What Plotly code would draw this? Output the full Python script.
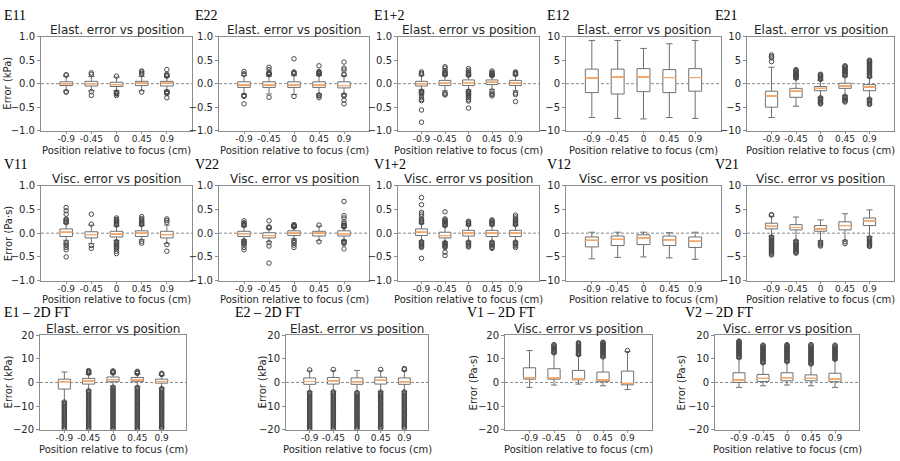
import plotly.graph_objects as go

# ---------------- data ----------------
positions = [1, 2, 3, 4, 5]
pos_labels = ["-0.9", "-0.45", "0", "0.45", "0.9"]

# E11
e11_q1 = [-0.04, -0.05, -0.06, -0.04, -0.05]
e11_med = [0.0, 0.0, -0.02, 0.01, 0.01]
e11_q3 = [0.04, 0.05, 0.03, 0.05, 0.05]
e11_lo = [-0.15, -0.15, -0.15, -0.15, -0.14]
e11_hi = [0.16, 0.15, 0.14, 0.15, 0.14]
e11_out = [[0.18, 0.19, -0.17, -0.18],
           [0.2, 0.23, -0.17, -0.25],
           [0.16, -0.18, -0.19, -0.2, -0.21, -0.22, -0.25],
           [0.2, 0.22, 0.25, 0.27, -0.18],
           [0.16, 0.17, 0.18, 0.2, 0.3, -0.17, -0.18, -0.19, -0.2, -0.21, -0.3]]

# E22
e22_q1 = [-0.08, -0.08, -0.08, -0.08, -0.09]
e22_med = [-0.03, -0.03, -0.03, -0.03, -0.04]
e22_q3 = [0.04, 0.04, 0.04, 0.04, 0.04]
e22_lo = [-0.22, -0.22, -0.23, -0.22, -0.22]
e22_hi = [0.17, 0.16, 0.17, 0.17, 0.17]
e22_out = [[0.2, 0.21, 0.26, -0.25, -0.26, -0.27, -0.43],
           [0.19, 0.2, 0.21, 0.22, 0.24, 0.3, 0.35, -0.29],
           [0.21, 0.22, 0.23, 0.25, 0.53, -0.27],
           [0.2, 0.21, 0.22, 0.23, 0.24, 0.26, 0.38, -0.24, -0.25, -0.26, -0.3],
           [0.19, 0.2, 0.29, 0.33, 0.46, -0.24, -0.25, -0.26, -0.35, -0.43]]

# E1+2
e12s_q1 = [-0.05, -0.04, -0.04, -0.02, -0.04]
e12s_med = [0.0, 0.01, 0.02, 0.03, 0.01]
e12s_q3 = [0.05, 0.07, 0.08, 0.08, 0.07]
e12s_lo = [-0.13, -0.15, -0.13, -0.12, -0.15]
e12s_hi = [0.17, 0.17, 0.17, 0.16, 0.17]
e12s_out = [[0.2, 0.22, 0.25, -0.16, -0.17, -0.18, -0.19, -0.2, -0.22, -0.25, -0.3, -0.34, -0.36, -0.56, -0.82],
            [0.19, 0.2, 0.21, 0.23, 0.25, 0.28, 0.33, 0.36, -0.2, -0.22, -0.24],
            [0.18, 0.19, 0.2, 0.21, 0.23, 0.25, 0.28, 0.32, -0.16, -0.17, -0.19, -0.21, -0.23, -0.25, -0.28, -0.3, -0.34, -0.37, -0.52],
            [0.17, 0.18, 0.2, 0.21, 0.22, 0.24, 0.27, -0.16, -0.2, -0.23, -0.26],
            [0.2, 0.21, 0.22, 0.23, 0.25, -0.2, -0.23, -0.38]]

# E12
e12_q1 = [-1.9, -2.2, -1.7, -1.9, -1.6]
e12_med = [1.2, 1.4, 1.4, 1.3, 1.3]
e12_q3 = [3.1, 3.1, 3.2, 3.0, 3.2]
e12_lo = [-7.2, -7.4, -7.5, -7.2, -7.4]
e12_hi = [9.2, 9.2, 7.5, 8.5, 9.2]
e12_out = [[], [], [], [], []]

# E21
e21_q1 = [-5.0, -2.9, -1.5, -1.0, -1.5]
e21_med = [-2.6, -1.6, -1.0, -0.5, -0.7]
e21_q3 = [-1.6, -1.0, -0.6, 0.1, -0.2]
e21_lo = [-7.2, -4.8, -2.9, -2.5, -3.2]
e21_hi = [3.5, 0.9, 0.7, 1.5, 1.3]
e21_out = [[4.7, 5.5, 5.8, 6.1],
           [1.2, 1.4, 1.5, 1.6, 1.7, 1.8, 1.9, 2.0, 2.2, 2.4, 2.6, 2.8, 3.0],
           [0.9, 1.1, 1.3, 1.5, 1.7, 1.9, 2.0, -3.0, -3.2, -3.4, -3.6, -3.8, -4.0, -4.2, -4.3],
           [1.7, 1.9, 2.1, 2.3, 2.5, 2.7, 2.9, 3.1, 3.3, 3.5, 3.7, 3.8,
            -2.7, -2.9, -3.1, -3.3, -3.5, -3.7, -3.9],
           [1.5, 1.7, 1.9, 2.1, 2.3, 2.5, 2.7, 2.9, 3.1, 3.3, 3.5, 3.7, 3.9, 4.1, 4.3, 4.5, 4.7, 4.9, 5.0,
            -3.3, -3.5, -3.7, -3.9, -4.1, -4.3, -4.4]]

# V11
v11_q1 = [-0.07, -0.1, -0.08, -0.07, -0.1]
v11_med = [0.02, -0.03, -0.02, 0.0, -0.03]
v11_q3 = [0.09, 0.03, 0.04, 0.05, 0.04]
v11_lo = [-0.15, -0.22, -0.15, -0.14, -0.22]
v11_hi = [0.2, 0.17, 0.15, 0.16, 0.17]
v11_out = [[0.22, 0.24, 0.26, 0.28, 0.3, 0.4, 0.47, 0.54, -0.2, -0.23, -0.26, -0.3, -0.35, -0.5],
           [0.19, 0.4, -0.26, -0.32],
           [0.17, 0.19, 0.21, 0.23, 0.25, 0.27, 0.29, 0.32, -0.18, -0.2, -0.22, -0.24, -0.26, -0.28, -0.3, -0.32, -0.38, -0.43],
           [0.18, 0.2, 0.22, 0.24, 0.26, 0.28, 0.31, 0.35, -0.17, -0.21],
           [0.23, 0.27, 0.3, -0.24, -0.38]]

# V22
v22_q1 = [-0.07, -0.1, -0.05, -0.06, -0.06]
v22_med = [-0.01, -0.05, 0.0, 0.0, -0.01]
v22_q3 = [0.04, 0.01, 0.05, 0.04, 0.05]
v22_lo = [-0.14, -0.18, -0.12, -0.16, -0.15]
v22_hi = [0.14, 0.09, 0.12, 0.15, 0.12]
v22_out = [[0.16, 0.18, 0.2, 0.22, 0.26, -0.16, -0.18, -0.2, -0.22, -0.25, -0.3, -0.35],
           [0.11, 0.12, 0.13, 0.26, -0.2, -0.27, -0.63],
           [0.13, 0.14, 0.15, 0.16, 0.17, 0.18, -0.15, -0.18, -0.2, -0.25, -0.3],
           [0.17, -0.18],
           [0.13, 0.14, 0.16, 0.17, 0.2, 0.24, 0.32, 0.37, 0.67, -0.17, -0.18, -0.2, -0.22, -0.33]]

# V1+2
v12s_q1 = [-0.05, -0.1, -0.06, -0.07, -0.07]
v12s_med = [0.02, -0.05, 0.0, 0.0, 0.0]
v12s_q3 = [0.09, 0.02, 0.06, 0.06, 0.06]
v12s_lo = [-0.16, -0.18, -0.17, -0.17, -0.17]
v12s_hi = [0.2, 0.14, 0.16, 0.16, 0.16]
v12s_out = [[0.22, 0.24, 0.26, 0.28, 0.3, 0.35, 0.4, 0.44, 0.6, 0.75, -0.18, -0.2, -0.22, -0.24, -0.26, -0.28, -0.3, -0.53],
            [0.16, 0.18, 0.2, 0.22, 0.24, 0.26, 0.28, 0.3, 0.45, -0.2, -0.22, -0.24, -0.26, -0.28, -0.3, -0.4, -0.47],
            [0.18, 0.2, 0.22, 0.24, 0.25, -0.19, -0.21, -0.23, -0.25, -0.27, -0.29],
            [0.18, 0.2, 0.22, 0.24, 0.26, 0.28, -0.19, -0.21, -0.23, -0.25, -0.27, -0.3, -0.32],
            [0.18, 0.2, 0.22, 0.24, 0.26, 0.28, 0.3, 0.34, 0.38, -0.19, -0.21, -0.23, -0.25, -0.27, -0.3]]

# V12
v12_q1 = [-2.9, -2.6, -2.4, -2.6, -3.0]
v12_med = [-1.5, -1.3, -1.0, -1.4, -1.7]
v12_q3 = [-0.8, -0.6, -0.35, -0.6, -0.8]
v12_lo = [-5.4, -5.1, -5.0, -5.2, -5.5]
v12_hi = [0.2, 0.2, 0.2, 0.1, 0.2]
v12_out = [[], [], [], [], []]

# V21
v21_q1 = [0.9, 0.7, 0.4, 0.7, 1.6]
v21_med = [1.45, 1.2, 0.9, 1.6, 2.6]
v21_q3 = [2.1, 1.8, 1.6, 2.4, 3.2]
v21_lo = [-0.6, -1.5, -1.6, -1.5, -0.7]
v21_hi = [3.6, 3.4, 2.8, 4.1, 4.9]
v21_out = [[3.8, 3.9, -0.8, -1.0, -1.2, -1.4, -1.6, -1.8, -2.0, -2.2, -2.4, -2.6, -2.8, -3.0,
            -3.2, -3.4, -3.6, -3.8, -4.0, -4.2, -4.4, -4.6],
           [-1.7, -1.9, -2.1, -2.3, -2.5, -2.7, -2.9, -3.1, -3.3, -3.5, -3.7, -3.9, -4.1, -4.2],
           [-1.9, -2.1, -2.3, -2.5, -2.7],
           [-1.8, -2.2],
           [-1.0, -1.2, -1.4, -1.6, -1.8, -2.0, -2.2, -2.4, -2.6, -2.8]]

# E1 - 2D FT
e1ft_q1 = [-2.8, -0.7, 0.3, 0.3, -0.3]
e1ft_med = [0.3, 0.6, 1.2, 1.0, 0.4]
e1ft_q3 = [1.4, 1.7, 2.3, 2.1, 1.4]
e1ft_lo = [-8.0, -3.3, -1.5, -1.8, -2.3]
e1ft_hi = [4.4, 3.4, 3.6, 3.5, 3.0]
e1ft_out = [[-8.3, -8.8, -9.3, -9.8, -10.3, -10.8, -11.3, -11.8, -12.3, -12.8, -13.3, -13.8, -14.3,
             -14.8, -15.3, -15.8, -16.3, -16.8, -17.3, -17.8, -18.3, -18.8, -19.3, -19.6],
            [3.9, 4.2, 4.5, 4.8, 5.0, -3.5, -4.0, -4.5, -5.0, -5.5, -6.0, -6.5, -7.0, -7.5, -8.0, -8.5,
             -9.0, -9.5, -10.0, -10.5, -11.0, -11.5, -12.0, -12.5, -13.0, -13.5, -14.0, -14.5, -15.0,
             -15.5, -16.0, -16.5, -17.0, -17.5, -18.0, -18.5, -19.0, -19.5, -20.0],
            [4.0, 4.3, 4.6, 4.9, -2.0, -2.5, -3.0, -3.5, -4.0, -4.5, -5.0, -5.5, -6.0, -6.5, -7.0, -7.5,
             -8.0, -8.5, -9.0, -9.5, -10.0, -10.5, -11.0, -11.5, -12.0, -12.5, -13.0, -13.5, -14.0,
             -14.5, -15.0, -15.5, -16.0, -16.5, -17.0, -17.5, -18.0, -18.5, -19.0, -19.5, -20.0],
            [3.8, 4.1, 4.4, 4.7, -2.1, -2.6, -3.1, -3.6, -4.1, -4.6, -5.1, -5.6, -6.1, -6.6, -7.1, -7.6,
             -8.1, -8.6, -9.1, -9.6, -10.1, -10.6, -11.1, -11.6, -12.1, -12.6, -13.1, -13.6, -14.1,
             -14.6, -15.1, -15.6, -16.1, -16.6, -17.1, -17.6, -18.1, -18.6, -19.1, -19.6, -20.0],
            [3.3, 3.6, 3.9, -2.6, -3.1, -3.6, -4.1, -4.6, -5.1, -5.6, -6.1, -6.6, -7.1, -7.6, -8.1,
             -8.6, -9.1, -9.6, -10.1, -10.6, -11.1, -11.6, -12.1, -12.6, -13.1, -13.6, -14.1, -14.6,
             -15.1, -15.6, -16.1, -16.6, -17.1, -17.6, -18.1, -18.6, -19.1, -19.5]]

# E2 - 2D FT
e2ft_q1 = [-0.8, -0.7, -0.8, -0.7, -0.8]
e2ft_med = [0.4, 0.7, 0.3, 0.9, 0.3]
e2ft_q3 = [1.9, 2.1, 1.9, 2.2, 1.9]
e2ft_lo = [-3.9, -3.7, -4.0, -3.8, -3.7]
e2ft_hi = [4.9, 5.0, 5.1, 5.0, 5.0]
e2ft_out = [[5.3, -4.2, -4.7, -5.2, -5.7, -6.2, -6.7, -7.2, -7.7, -8.2, -8.7, -9.2, -9.7, -10.2, -10.7,
             -11.2, -11.7, -12.2, -12.7, -13.2, -13.7, -14.2, -14.7, -15.2, -15.7, -16.2, -16.7,
             -17.2, -17.7, -18.2, -18.7, -19.2, -19.7, -20.0],
            [5.5, -4.0, -4.5, -5.0, -5.5, -6.0, -6.5, -7.0, -7.5, -8.0, -8.5, -9.0, -9.5, -10.0, -10.5,
             -11.0, -11.5, -12.0, -12.5, -13.0, -13.5, -14.0, -14.5, -15.0, -15.5, -16.0, -16.5,
             -17.0, -17.5, -18.0, -18.5, -19.0, -19.5, -20.0],
            [-4.3, -4.8, -5.3, -5.8, -6.3, -6.8, -7.3, -7.8, -8.3, -8.8, -9.3, -9.8, -10.3, -10.8,
             -11.3, -11.8, -12.3, -12.8, -13.3, -13.8, -14.3, -14.8, -15.3, -15.8, -16.3, -16.8,
             -17.3, -17.8, -18.3, -18.8, -19.3, -19.5],
            [5.5, -4.1, -4.6, -5.1, -5.6, -6.1, -6.6, -7.1, -7.6, -8.1, -8.6, -9.1, -9.6, -10.1, -10.6,
             -11.1, -11.6, -12.1, -12.6, -13.1, -13.6, -14.1, -14.6, -15.1, -15.6, -16.1, -16.6,
             -17.1, -17.6, -18.1, -18.6, -19.1, -19.5],
            [5.4, 5.9, -4.0, -4.5, -5.0, -5.5, -6.0, -6.5, -7.0, -7.5, -8.0, -8.5, -9.0, -9.5, -10.0,
             -10.5, -11.0, -11.5, -12.0, -12.5, -13.0, -13.5, -14.0, -14.5, -15.0, -15.5, -16.0,
             -16.5, -17.0, -17.5, -18.0, -18.5, -19.0, -19.5]]

# V1 - 2D FT
v1ft_q1 = [1.4, 1.4, 1.1, 0.3, -1.0]
v1ft_med = [2.0, 2.0, 1.4, 1.0, -0.4]
v1ft_q3 = [6.2, 5.8, 5.1, 4.4, 4.8]
v1ft_lo = [-2.1, -1.1, -0.7, -1.4, -3.0]
v1ft_hi = [13.5, 12.2, 11.5, 10.5, 13.1]
v1ft_out = [[],
            [12.5, 12.9, 13.3, 13.7, 14.1, 14.5, 14.9, 15.3, 15.7, 16.0],
            [11.8, 12.2, 12.6, 13.0, 13.4, 13.8, 14.2, 14.6, 15.0, 15.4, 15.8, 16.2, 16.5, 16.8],
            [10.8, 11.2, 11.6, 12.0, 12.4, 12.8, 13.2, 13.6, 14.0, 14.4, 14.8, 15.2, 15.6, 16.0,
             16.4, 16.8, 17.0],
            [13.5]]

# V2 - 2D FT
v2ft_q1 = [0.0, 0.4, 0.7, 0.7, 0.3]
v2ft_med = [1.0, 1.7, 2.0, 1.7, 1.4]
v2ft_q3 = [4.1, 3.4, 4.1, 3.2, 3.9]
v2ft_lo = [-2.1, -1.4, -1.1, -1.4, -2.1]
v2ft_hi = [10.2, 8.0, 8.5, 7.5, 9.5]
v2ft_out = [[10.5, 10.9, 11.3, 11.7, 12.1, 12.5, 12.9, 13.3, 13.7, 14.1, 14.5, 14.9, 15.3, 15.7,
             16.1, 16.5, 16.9, 17.3, 17.5],
            [8.3, 8.7, 9.1, 9.5, 9.9, 10.3, 10.7, 11.1, 11.5, 11.9, 12.3, 12.7, 13.1, 13.5, 13.9,
             14.3, 14.7, 15.1, 15.5, 15.8],
            [8.8, 9.2, 9.6, 10.0, 10.4, 10.8, 11.2, 11.6, 12.0, 12.4, 12.8, 13.2, 13.6, 14.0, 14.4,
             14.8, 15.2, 15.6, 16.0],
            [7.8, 8.2, 8.6, 9.0, 9.4, 9.8, 10.2, 10.6, 11.0, 11.4, 11.8, 12.2, 12.6, 13.0, 13.4,
             13.8, 14.2, 14.6, 15.0, 15.4, 15.8, 16.0],
            [9.8, 10.2, 10.6, 11.0, 11.4, 11.8, 12.2, 12.6, 13.0, 13.4, 13.8, 14.2, 14.6, 15.0,
             15.4, 15.8]]

E_TITLE = "Elast. error vs position"
V_TITLE = "Visc. error vs position"
X_TITLE = "Position relative to focus (cm)"

panels = [
    ("E11", E_TITLE, "Error (kPa)", 1.0, e11_q1, e11_med, e11_q3, e11_lo, e11_hi, e11_out),
    ("E22", E_TITLE, None, 1.0, e22_q1, e22_med, e22_q3, e22_lo, e22_hi, e22_out),
    ("E1+2", E_TITLE, None, 1.0, e12s_q1, e12s_med, e12s_q3, e12s_lo, e12s_hi, e12s_out),
    ("E12", E_TITLE, None, 10, e12_q1, e12_med, e12_q3, e12_lo, e12_hi, e12_out),
    ("E21", E_TITLE, None, 10, e21_q1, e21_med, e21_q3, e21_lo, e21_hi, e21_out),
    ("V11", V_TITLE, "Error (Pa·s)", 1.0, v11_q1, v11_med, v11_q3, v11_lo, v11_hi, v11_out),
    ("V22", V_TITLE, None, 1.0, v22_q1, v22_med, v22_q3, v22_lo, v22_hi, v22_out),
    ("V1+2", V_TITLE, None, 1.0, v12s_q1, v12s_med, v12s_q3, v12s_lo, v12s_hi, v12s_out),
    ("V12", V_TITLE, None, 10, v12_q1, v12_med, v12_q3, v12_lo, v12_hi, v12_out),
    ("V21", V_TITLE, None, 10, v21_q1, v21_med, v21_q3, v21_lo, v21_hi, v21_out),
    ("E1 – 2D FT", E_TITLE, "Error (kPa)", 20, e1ft_q1, e1ft_med, e1ft_q3, e1ft_lo, e1ft_hi, e1ft_out),
    ("E2 – 2D FT", E_TITLE, "Error (kPa)", 20, e2ft_q1, e2ft_med, e2ft_q3, e2ft_lo, e2ft_hi, e2ft_out),
    ("V1 – 2D FT", V_TITLE, "Error (Pa·s)", 20, v1ft_q1, v1ft_med, v1ft_q3, v1ft_lo, v1ft_hi, v1ft_out),
    ("V2 – 2D FT", V_TITLE, "Error (Pa·s)", 20, v2ft_q1, v2ft_med, v2ft_q3, v2ft_lo, v2ft_hi, v2ft_out),
]

# ---------------- layout geometry (pixels) ----------------
W, H = 900, 461
rows_y = [(31.5, 128), (184.5, 282), (338, 435)]
title_y = [25, 178, 332]
xlab_y = [148, 301, 455]
label_y = [10, 163, 315]
cols_12 = [(41, 192), (219, 369), (398, 539), (566, 721), (747, 894)]
cols_3 = [(40, 186), (286, 428), (505, 652), (715, 859)]
label_x_12 = [2, 193, 372, 545, 713]
label_x_3 = [2, 233, 465, 683]
ylab_x_12 = [8, None, None, None, None]
ylab_x_3 = [8, 262, 473, 681]

geom = []
for r in range(2):
    for c in range(5):
        geom.append((cols_12[c], rows_y[r], title_y[r], xlab_y[r], label_y[r],
                     label_x_12[c], ylab_x_12[c]))
for c in range(4):
    geom.append((cols_3[c], rows_y[2], title_y[2], xlab_y[2], label_y[2],
                 label_x_3[c], ylab_x_3[c]))

TXT = "#262626"
LINE = "#8c8c8c"
BOXC = "#707070"
MEDC = "#f9a867"
OUTC = "#4a4a4a"
FONT = "DejaVu Sans"

fig = go.Figure()
annotations = []
shapes = []
layout_axes = {}

def px(x):
    return x / W

def py(y):
    return 1 - y / H

for i, (p, g) in enumerate(zip(panels, geom)):
    name, title, ylab, lim, q1, med, q3, lo, hi, outs = p
    (x0, x1), (yt, yb), ty, xly, ly, lx, ylx = g
    n = i + 1
    xa = "x" if n == 1 else f"x{n}"
    ya = "y" if n == 1 else f"y{n}"

    fig.add_trace(go.Box(
        x=positions, q1=q1, median=med, q3=q3, lowerfence=lo, upperfence=hi,
        width=0.5, whiskerwidth=0.5, boxpoints=False,
        fillcolor="white", line=dict(color=BOXC, width=1),
        xaxis=xa, yaxis=ya, showlegend=False, hoverinfo="skip"))
    # median line in orange (box of zero height at the median)
    fig.add_trace(go.Box(
        x=positions, q1=med, median=med, q3=med, lowerfence=med, upperfence=med,
        width=0.5, whiskerwidth=0, boxpoints=False,
        fillcolor="rgba(0,0,0,0)", line=dict(color=MEDC, width=1),
        xaxis=xa, yaxis=ya, showlegend=False, hoverinfo="skip"))
    ox, oy = [], []
    for k, vals in enumerate(outs):
        ox += [positions[k]] * len(vals)
        oy += vals
    if oy:
        fig.add_trace(go.Scatter(
            x=ox, y=oy, mode="markers",
            marker=dict(symbol="circle-open", size=4.5, color=OUTC,
                        line=dict(width=1, color=OUTC)),
            xaxis=xa, yaxis=ya, showlegend=False, hoverinfo="skip"))

    if lim == 1.0:
        ytick = dict(tickvals=[-1, -0.5, 0, 0.5, 1], tickformat=".1f")
    elif lim == 10:
        ytick = dict(tickvals=[-10, -5, 0, 5, 10])
    else:
        ytick = dict(tickvals=[-20, -10, 0, 10, 20])

    axis_common = dict(showline=True, linecolor=LINE, linewidth=1, mirror=True,
                       showgrid=False, zeroline=False, ticks="outside",
                       tickcolor=LINE, tickangle=0)
    layout_axes["xaxis" if n == 1 else f"xaxis{n}"] = dict(
        domain=[px(x0), px(x1)], anchor=ya, range=[0, 6], ticklen=2,
        ticklabelstandoff=-2,
        tickvals=positions, ticktext=pos_labels,
        tickfont=dict(family=FONT, size=9, color=TXT), **axis_common)
    layout_axes["yaxis" if n == 1 else f"yaxis{n}"] = dict(
        domain=[py(yb), py(yt)], anchor=xa, range=[-lim, lim], ticklen=3,
        tickfont=dict(family=FONT, size=10, color=TXT), **ytick, **axis_common)

    xref_dom = ("x" if n == 1 else f"x{n}") + " domain"
    shapes.append(dict(type="line", xref=xref_dom, yref=ya, x0=0, x1=1, y0=0, y1=0,
                       line=dict(color="#8a8a8a", width=1, dash="3px,2px"), layer="below"))

    annotations.append(dict(text=name, x=px(lx), y=py(ly), xref="paper", yref="paper",
                            xanchor="left", yanchor="middle", showarrow=False,
                            font=dict(family="Liberation Serif", size=14, color="black")))
    annotations.append(dict(text=title, x=px((x0 + x1) / 2), y=py(ty), xref="paper", yref="paper",
                            xanchor="center", yanchor="middle", showarrow=False,
                            font=dict(family=FONT, size=12, color=TXT)))
    annotations.append(dict(text=X_TITLE, x=px((x0 + x1) / 2), y=py(xly), xref="paper", yref="paper",
                            xanchor="center", yanchor="middle", showarrow=False,
                            font=dict(family=FONT, size=10, color=TXT)))
    if ylab and ylx is not None:
        annotations.append(dict(text=ylab, x=px(ylx), y=py((yt + yb) / 2), xref="paper", yref="paper",
                                xanchor="center", yanchor="middle", showarrow=False, textangle=-90,
                                font=dict(family=FONT, size=10, color=TXT)))

fig.update_layout(width=W, height=H, margin=dict(l=0, r=0, t=0, b=0),
                  paper_bgcolor="white", plot_bgcolor="white",
                  annotations=annotations, shapes=shapes, boxmode="overlay",
                  **layout_axes)

fig.write_html("out.html", config={"displayModeBar": False},
               post_script="document.body.style.margin='0';document.body.style.overflow='hidden';")
